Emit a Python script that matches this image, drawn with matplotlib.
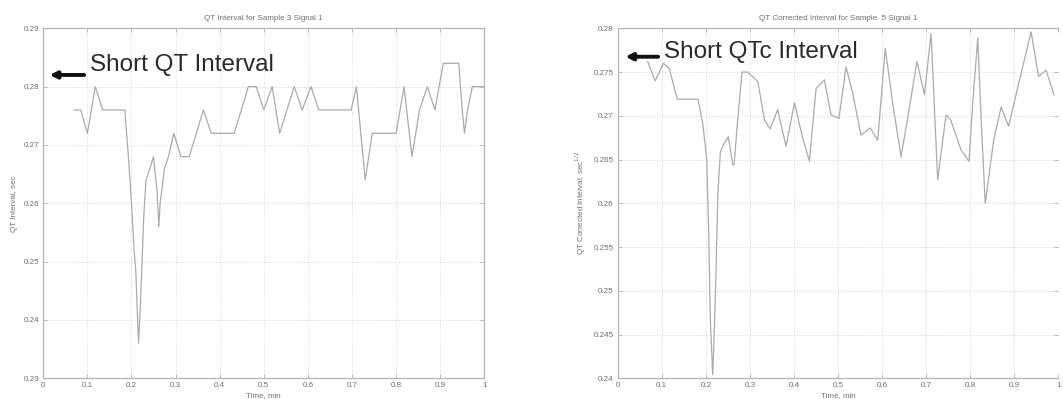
import matplotlib.pyplot as plt

plt.rcParams['font.family'] = ['Liberation Sans', 'DejaVu Sans']

# QT interval, sample 3 signal 1
qt_time = [0.070, 0.085, 0.100, 0.118, 0.135, 0.185, 0.193, 0.200, 0.206, 0.210,
           0.213, 0.216, 0.220, 0.223, 0.228, 0.233, 0.242, 0.250, 0.258, 0.262,
           0.265, 0.275, 0.284, 0.296, 0.312, 0.331, 0.363, 0.381, 0.433, 0.465,
           0.483, 0.500, 0.519, 0.536, 0.569, 0.587, 0.607, 0.625, 0.698, 0.710,
           0.730, 0.746, 0.800, 0.818, 0.836, 0.853, 0.871, 0.888, 0.907, 0.942,
           0.950, 0.955, 0.962, 0.973, 1.000]
qt_vals = [0.276, 0.276, 0.272, 0.280, 0.276, 0.276, 0.268, 0.260, 0.252, 0.248,
           0.242, 0.236, 0.242, 0.248, 0.258, 0.264, 0.266, 0.268, 0.262, 0.256,
           0.260, 0.266, 0.268, 0.272, 0.268, 0.268, 0.276, 0.272, 0.272, 0.280,
           0.280, 0.276, 0.280, 0.272, 0.280, 0.276, 0.280, 0.276, 0.276, 0.280,
           0.264, 0.272, 0.272, 0.280, 0.268, 0.276, 0.280, 0.276, 0.284, 0.284,
           0.276, 0.272, 0.276, 0.280, 0.280]

# corrected QT interval, sample 5 signal 1
qtc_time = [0.068, 0.085, 0.104, 0.117, 0.135, 0.182, 0.193, 0.202, 0.2065, 0.210,
            0.2156, 0.219, 0.223, 0.227, 0.233, 0.242, 0.251, 0.261, 0.264, 0.271,
            0.282, 0.295, 0.318, 0.333, 0.346, 0.363, 0.382, 0.401, 0.418, 0.435,
            0.450, 0.469, 0.484, 0.502, 0.518, 0.533, 0.552, 0.573, 0.590, 0.607,
            0.624, 0.643, 0.662, 0.679, 0.696, 0.711, 0.726, 0.745, 0.756, 0.779,
            0.797, 0.806, 0.817, 0.825, 0.834, 0.853, 0.870, 0.887, 0.908, 0.938,
            0.955, 0.972, 0.990]
qtc_vals = [0.2762, 0.2740, 0.2760, 0.2754, 0.2719, 0.2719, 0.2691, 0.2650, 0.2566, 0.2470,
            0.2404, 0.2451, 0.2520, 0.2608, 0.2659, 0.2669, 0.2676, 0.2644, 0.2644, 0.2688,
            0.2750, 0.2750, 0.2739, 0.2695, 0.2685, 0.2707, 0.2665, 0.2715, 0.2678, 0.2648,
            0.2731, 0.2741, 0.2701, 0.2697, 0.2756, 0.2726, 0.2678, 0.2686, 0.2672, 0.2777,
            0.2714, 0.2653, 0.2710, 0.2762, 0.2724, 0.2794, 0.2627, 0.2701, 0.2695, 0.2661,
            0.2648, 0.2718, 0.2789, 0.2691, 0.2600, 0.2672, 0.2710, 0.2688, 0.2733, 0.2796,
            0.2745, 0.2752, 0.2724]

x_ticks = [0, 0.1, 0.2, 0.3, 0.4, 0.5, 0.6, 0.7, 0.8, 0.9, 1]
x_labels = ['0', '0.1', '0.2', '0.3', '0.4', '0.5', '0.6', '0.7', '0.8', '0.9', '1']
qt_ticks = [0.23, 0.24, 0.25, 0.26, 0.27, 0.28, 0.29]
qtc_ticks = [0.24, 0.245, 0.25, 0.255, 0.26, 0.265, 0.27, 0.275, 0.28]

fig = plt.figure(figsize=(10.63, 4.07), dpi=100)
ax1 = fig.add_axes([0.0407, 0.0705, 0.4149, 0.86])
ax2 = fig.add_axes([0.5811, 0.0705, 0.4146, 0.86])

def style(ax, yticks, title, ylabel):
    ax.set_xlim(0, 1)
    ax.set_ylim(yticks[0], yticks[-1])
    ax.set_xticks(x_ticks)
    ax.set_xticklabels(x_labels)
    ax.set_yticks(yticks)
    ax.set_yticklabels([('%g' % v) for v in yticks])
    ax.grid(True, linestyle=':', color='#d5d5d5', linewidth=0.7)
    ax.tick_params(direction='in', top=True, right=True, length=3, width=0.6,
                   colors='#b0b0b0', labelcolor='#6e6e6e', labelsize=5.8, pad=3)
    for s in ax.spines.values():
        s.set_color('#b5b5b5')
        s.set_linewidth(0.9)
    ax.set_title(title, fontsize=5.8, color='#707070', pad=6)
    ax.set_xlabel('Time, min', fontsize=5.8, color='#707070', labelpad=2)
    ax.set_ylabel(ylabel, fontsize=5.8, color='#707070', labelpad=4)

ax1.plot(qt_time, qt_vals, color='#ababab', linewidth=0.9)
style(ax1, qt_ticks, 'QT Interval for Sample 3 Signal 1', 'QT Interval, sec')
ax1.annotate('', xy=(0.008, 0.2820), xytext=(0.099, 0.2820),
             arrowprops=dict(arrowstyle='-|>', color='#111111', lw=2.8, mutation_scale=10))
ax1.text(0.106, 0.2826, 'Short QT Interval', fontsize=17.5, color='#2a2a2a', va='baseline')

ax2.plot(qtc_time, qtc_vals, color='#ababab', linewidth=0.9)
style(ax2, qtc_ticks, 'QT Corrected Interval for Sample  5 Signal 1',
      r'QT Corrected Interval, sec$^{1/2}$')
ax2.spines['right'].set_visible(False)
ax2.annotate('', xy=(0.011, 0.27675), xytext=(0.098, 0.27675),
             arrowprops=dict(arrowstyle='-|>', color='#111111', lw=2.8, mutation_scale=10))
ax2.text(0.104, 0.2766, 'Short QTc Interval', fontsize=17.5, color='#2a2a2a', va='baseline')

fig.savefig('out.png', dpi=100)
